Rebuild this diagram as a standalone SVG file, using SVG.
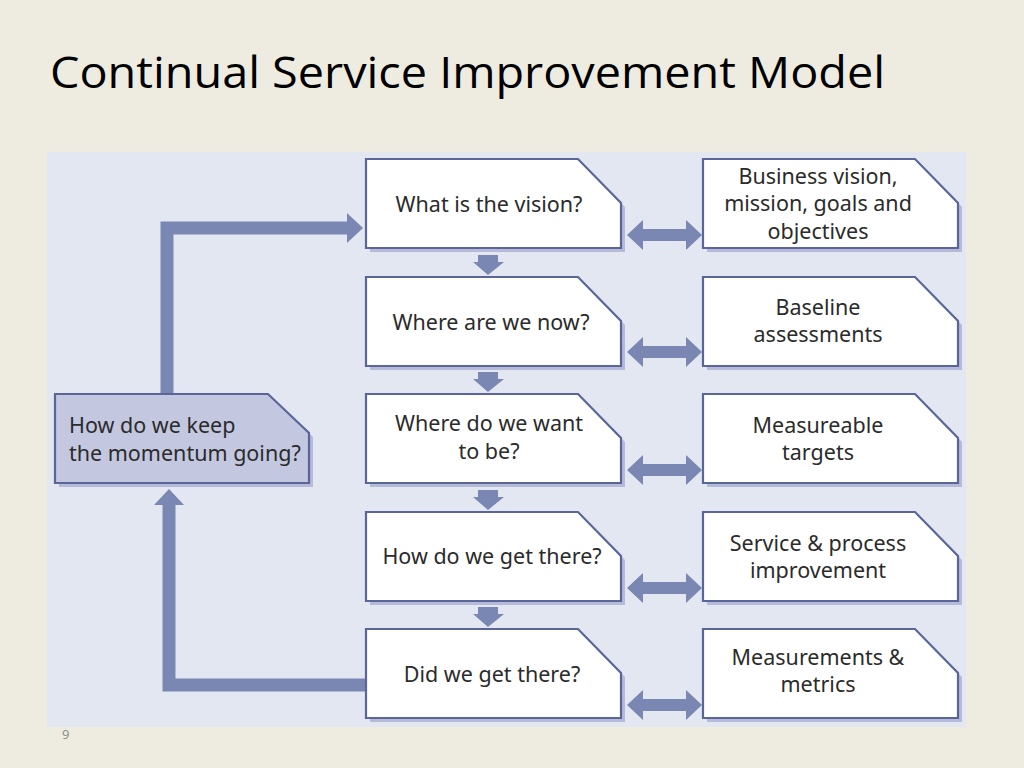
<svg xmlns="http://www.w3.org/2000/svg" xmlns:xlink="http://www.w3.org/1999/xlink" width="1024" height="768" viewBox="0 0 1024 768">
<style>
.box{fill:#ffffff;stroke:#5a669a;stroke-width:2.2}
.lbox{fill:#c3c8e0;stroke:#5a669a;stroke-width:2.2}
.sh{fill:#b4bad7}
.t{font-family:"Noto Sans","Open Sans",sans-serif;font-size:21.5px;fill:#2b2b2b;text-anchor:middle}
.tl{font-family:"Noto Sans","Open Sans",sans-serif;font-size:21.5px;fill:#2b2b2b}
.arr{fill:#7b87b3}
.ln{fill:none;stroke:#7b87b3;stroke-width:13}
</style>
<defs>
<path id="mb" d="M0,0 H212 L255,44 V89 H0 Z"/>
<path id="lb" d="M0,0 H213 L254,39 V89 H0 Z"/>
<polygon id="da" points="0,0 16,-15 16,-6 59,-6 59,-15 75,0 59,15 59,6 16,6 16,15"/>
<polygon id="dn" points="-10,0 10,0 10,7 16,7 0,20 -15,7 -10,7"/>
</defs>
<rect width="1024" height="768" fill="#eeece1"/>
<rect x="47" y="152" width="919" height="575" fill="#e3e7f2"/>
<text x="50" y="88" font-family="Open Sans, Noto Sans, sans-serif" font-size="44" textLength="835" lengthAdjust="spacingAndGlyphs" fill="#000">Continual Service Improvement Model</text>
<text x="62" y="739" font-family="Open Sans, Noto Sans, sans-serif" font-size="13" fill="#8a8a8a">9</text>

<g id="connectors">
<path class="ln" d="M167,394 V228 H348"/>
<polygon class="arr" points="347,213 363,228 347,243"/>
<path class="ln" d="M366,685 H169 V504"/>
<polygon class="arr" points="154,505 169,489 184,505"/>
<use xlink:href="#dn" class="arr" x="488" y="255"/>
<use xlink:href="#dn" class="arr" x="488" y="372"/>
<use xlink:href="#dn" class="arr" x="488" y="490"/>
<use xlink:href="#dn" class="arr" x="488" y="607"/>
<use xlink:href="#da" class="arr" x="627" y="235"/>
<use xlink:href="#da" class="arr" x="627" y="352"/>
<use xlink:href="#da" class="arr" x="627" y="470"/>
<use xlink:href="#da" class="arr" x="627" y="588"/>
<use xlink:href="#da" class="arr" x="627" y="705"/>
</g>

<g id="left">
<use xlink:href="#lb" class="sh" x="59" y="398"/>
<use xlink:href="#lb" class="lbox" x="55" y="394"/>
<text class="tl" x="69" y="433">How do we keep</text>
<text class="tl" x="69" y="461">the momentum going?</text>
</g>

<g id="q1">
<use xlink:href="#mb" class="sh" x="370" y="163"/>
<use xlink:href="#mb" class="box" x="366" y="159"/>
<text class="t" x="489" y="212">What is the vision?</text>
</g>
<g id="q2">
<use xlink:href="#mb" class="sh" x="370" y="281"/>
<use xlink:href="#mb" class="box" x="366" y="277"/>
<text class="t" x="491" y="330">Where are we now?</text>
</g>
<g id="q3">
<use xlink:href="#mb" class="sh" x="370" y="398"/>
<use xlink:href="#mb" class="box" x="366" y="394"/>
<text class="t" x="489" y="431">Where do we want</text>
<text class="t" x="489" y="459">to be?</text>
</g>
<g id="q4">
<use xlink:href="#mb" class="sh" x="370" y="516"/>
<use xlink:href="#mb" class="box" x="366" y="512"/>
<text class="t" x="492" y="564">How do we get there?</text>
</g>
<g id="q5">
<use xlink:href="#mb" class="sh" x="370" y="633"/>
<use xlink:href="#mb" class="box" x="366" y="629"/>
<text class="t" x="492" y="682">Did we get there?</text>
</g>

<g id="a1">
<use xlink:href="#mb" class="sh" x="707" y="163"/>
<use xlink:href="#mb" class="box" x="703" y="159"/>
<text class="t" x="818" y="184">Business vision,</text>
<text class="t" x="818" y="211">mission, goals and</text>
<text class="t" x="818" y="239">objectives</text>
</g>
<g id="a2">
<use xlink:href="#mb" class="sh" x="707" y="281"/>
<use xlink:href="#mb" class="box" x="703" y="277"/>
<text class="t" x="818" y="315">Baseline</text>
<text class="t" x="818" y="342">assessments</text>
</g>
<g id="a3">
<use xlink:href="#mb" class="sh" x="707" y="398"/>
<use xlink:href="#mb" class="box" x="703" y="394"/>
<text class="t" x="818" y="433">Measureable</text>
<text class="t" x="818" y="460">targets</text>
</g>
<g id="a4">
<use xlink:href="#mb" class="sh" x="707" y="516"/>
<use xlink:href="#mb" class="box" x="703" y="512"/>
<text class="t" x="818" y="551">Service &amp; process</text>
<text class="t" x="818" y="578">improvement</text>
</g>
<g id="a5">
<use xlink:href="#mb" class="sh" x="707" y="633"/>
<use xlink:href="#mb" class="box" x="703" y="629"/>
<text class="t" x="818" y="665">Measurements &amp;</text>
<text class="t" x="818" y="692">metrics</text>
</g>
</svg>
